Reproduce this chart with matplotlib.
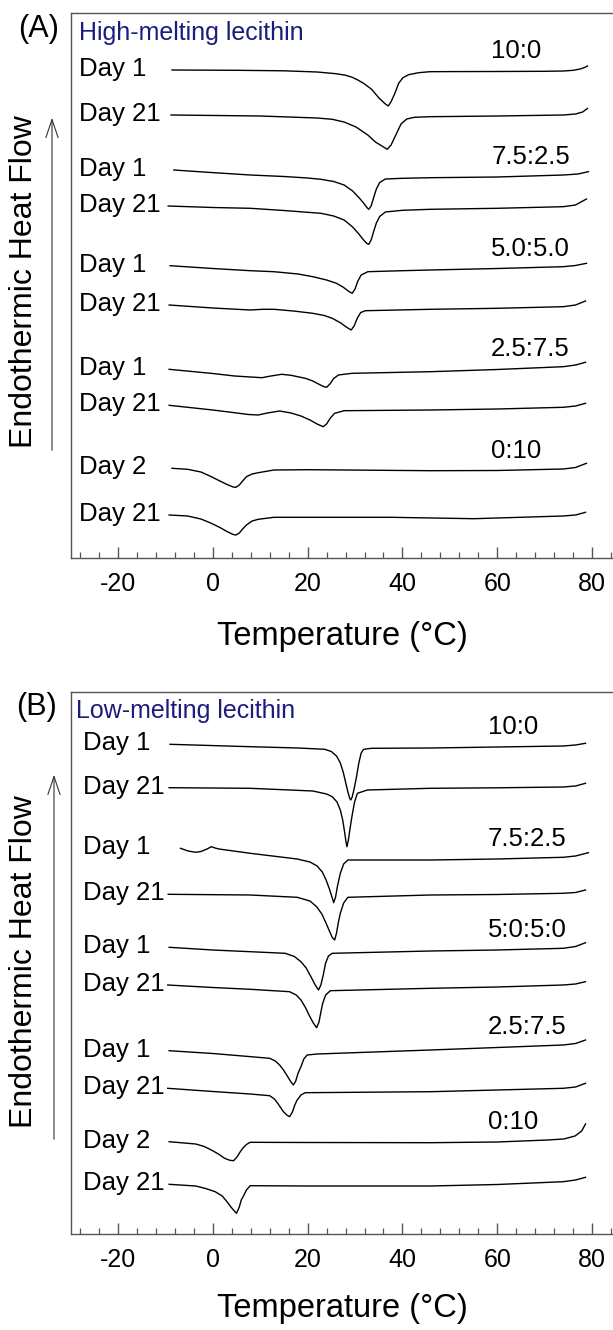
import matplotlib
matplotlib.use("Agg")
import matplotlib.pyplot as plt
from matplotlib.patches import FancyArrowPatch
from matplotlib.ticker import MultipleLocator, NullLocator
import numpy as np

plt.rcParams["font.family"] = ["Liberation Sans", "DejaVu Sans"]
plt.rcParams["axes.unicode_minus"] = False

# ---- Panel A: high-melting lecithin (temperature in degC, heat flow in a.u., stacked) ----
hi_10_0_d1_t = [-8.6, 5, 15, 22, 26, 28, 29.4, 30.6, 31.8, 33.5, 35.1, 36.4, 37.0, 37.6, 38.4, 39.2,
                40.1, 41.3, 43.4, 45.8, 50, 60, 70, 74, 76, 77.5, 78.5, 79]
hi_10_0_d1_hf = [48.8, 48.77, 48.72, 48.6, 48.43, 48.28, 48.07, 47.8, 47.47, 46.87, 45.97, 45.4, 45.2, 45.63,
                 46.47, 47.47, 48.03, 48.33, 48.53, 48.63, 48.64, 48.65, 48.67, 48.7, 48.77, 48.9, 49.07, 49.2]
hi_10_0_d21_t = [-8.8, 10, 22, 25.2, 27.7, 30.2, 32.7, 34.3, 36, 36.8, 37.6, 38.6, 39.7, 40.9, 42.5, 45.8,
                 60, 74, 76.5, 78, 79]
hi_10_0_d21_hf = [44.3, 44.2, 44.0, 43.87, 43.6, 43.1, 42.3, 41.6, 41.1, 40.87, 41.3, 42.3, 43.4, 43.9, 44.07,
                  44.13, 44.2, 44.3, 44.4, 44.6, 44.95]
hi_75_25_d1_t = [-8.2, -2, 7.9, 15, 20, 22.8, 25.5, 27.7, 29.5, 30.8, 31.8, 32.5, 32.9, 33.4, 33.9, 34.5,
                 35.2, 36.4, 40, 46, 60, 74, 77, 79.2]
hi_75_25_d1_hf = [38.8, 38.6, 38.3, 38.15, 38.0, 37.87, 37.65, 37.3, 36.7, 36.05, 35.5, 35.05, 34.87, 35.2,
                  36.0, 36.9, 37.55, 37.9, 37.97, 38.03, 38.1, 38.3, 38.4, 38.63]
hi_75_25_d21_t = [-9.4, 0, 7.9, 15, 22.8, 25.5, 27.7, 29.5, 30.8, 31.8, 32.5, 32.9, 33.4, 33.9, 34.5, 35.2,
                  36.4, 40, 45.9, 60, 73.9, 76.5, 78.8]
hi_75_25_d21_hf = [35.2, 35.05, 34.97, 34.75, 34.47, 34.2, 33.8, 33.1, 32.4, 31.8, 31.45, 31.37, 31.8, 32.6,
                   33.5, 34.15, 34.6, 34.77, 34.87, 34.97, 35.13, 35.3, 35.9]
hi_50_50_d1_t = [-9, 0, 7.9, 12.9, 18, 21.1, 24, 26.1, 27.6, 28.7, 29.4, 30, 30.6, 31.3, 32.7, 40, 45.9,
                 60, 73.9, 76.5, 78.8]
hi_50_50_d1_hf = [29.23, 28.95, 28.73, 28.63, 28.4, 28.13, 27.8, 27.47, 27.05, 26.65, 26.47, 26.9, 27.7, 28.3,
                  28.63, 28.73, 28.8, 28.95, 29.13, 29.25, 29.47]
hi_50_50_d21_t = [-9.2, 0, 7.9, 10.5, 12.9, 17, 21.1, 23.5, 25.2, 27, 28.3, 29.2, 29.8, 30.5, 31.2, 32.2,
                  45.9, 60, 73.9, 76.5, 78.6]
hi_50_50_d21_hf = [25.3, 25.0, 24.8, 24.87, 24.87, 24.7, 24.47, 24.25, 23.97, 23.5, 23.05, 22.8, 23.2, 24.0,
                   24.55, 24.73, 24.87, 24.97, 25.13, 25.3, 25.7]
hi_25_75_d1_t = [-9.2, 0, 4.6, 8, 10.4, 12, 14.5, 16.5, 19.5, 21, 22.5, 23.5, 24, 24.7, 25.5, 26.5, 29.4,
                 45.9, 60, 73.9, 76.5, 78.6]
hi_25_75_d1_hf = [18.87, 18.45, 18.2, 18.1, 18.03, 18.18, 18.37, 18.27, 17.97, 17.72, 17.35, 17.12, 17.07,
                  17.4, 17.95, 18.3, 18.47, 18.63, 18.85, 19.13, 19.3, 19.57]
hi_25_75_d21_t = [-9.2, 0, 4.6, 7.5, 9.6, 11.5, 14.1, 16.5, 18.6, 20.5, 22, 23.3, 24, 24.8, 25.7, 27.7,
                  45.9, 60, 73.9, 76.5, 78.6]
hi_25_75_d21_hf = [15.27, 14.8, 14.53, 14.35, 14.3, 14.5, 14.7, 14.5, 14.2, 13.8, 13.4, 13.13, 13.4, 14.0,
                   14.47, 14.73, 14.8, 14.9, 15.07, 15.2, 15.47]
hi_0_10_d2_t = [-8.6, -5.3, -2.5, -0.3, 1.5, 3, 4.3, 4.9, 5.6, 6.3, 7.1, 8.3, 9.6, 12.9, 20, 45.9, 60,
                73.9, 76.5, 78.8]
hi_0_10_d2_hf = [8.97, 8.87, 8.6, 8.13, 7.7, 7.35, 7.1, 7.07, 7.3, 7.7, 8.13, 8.4, 8.53, 8.8, 8.83, 8.73,
                 8.75, 8.9, 9.05, 9.47]
hi_0_10_d21_t = [-9.2, -5.3, -2.5, -0.3, 1.5, 3, 4.3, 4.9, 5.6, 6.3, 7.1, 8.3, 9.6, 12.9, 37.6, 50, 55,
                 60, 73.9, 76.5, 78.6]
hi_0_10_d21_hf = [4.3, 4.2, 3.9, 3.47, 3.05, 2.65, 2.35, 2.3, 2.5, 2.9, 3.3, 3.7, 3.87, 4.07, 4.07, 3.97,
                  3.93, 4.0, 4.2, 4.3, 4.57]

# ---- Panel B: low-melting lecithin ----
lo_10_0_d1_t = [-9, 7.9, 18, 23.6, 25, 26.1, 26.9, 27.5, 28, 28.5, 28.9, 29.1, 29.4, 29.8, 30.3, 30.8,
                31.3, 31.8, 33.5, 45.9, 60, 73.9, 76.5, 78.6]
lo_10_0_d1_hf = [48.97, 48.73, 48.6, 48.47, 48.25, 47.8, 47.1, 46.2, 45.2, 44.2, 43.55, 43.4, 43.7, 44.5,
                 45.7, 47.1, 48.1, 48.47, 48.57, 48.6, 48.7, 48.8, 48.9, 49.07]
lo_10_0_d21_t = [-9.2, 7.9, 21.1, 24, 25.2, 26.2, 26.9, 27.4, 27.8, 28.1, 28.3, 28.6, 29, 29.4, 29.9, 30.5,
                 32.6, 45.9, 60, 73.9, 76.5, 78.6]
lo_10_0_d21_hf = [44.63, 44.57, 44.3, 44.0, 43.73, 43.2, 42.4, 41.4, 40.2, 39.2, 38.73, 39.4, 40.7, 41.9,
                  43.2, 44.07, 44.4, 44.57, 44.62, 44.7, 44.8, 45.07]
lo_75_25_d1_t = [-6.8, -5.2, -3.6, -2.5, -1.2, -0.3, 0.5, 1.3, 7.9, 17.8, 20.5, 22, 23.1, 23.9, 24.6, 25.2,
                 25.5, 25.9, 26.3, 26.9, 27.6, 28.5, 45.9, 60, 73.9, 76.5, 79.2]
lo_75_25_d1_hf = [38.57, 38.3, 38.17, 38.25, 38.5, 38.73, 38.6, 38.5, 38.07, 37.5, 37.2, 36.8, 36.2, 35.4,
                  34.5, 33.6, 33.13, 33.7, 34.8, 36.07, 37.0, 37.4, 37.4, 37.5, 37.67, 37.8, 38.13]
lo_75_25_d21_t = [-9.4, 7.9, 17.8, 20.5, 21.9, 23, 23.9, 24.6, 25.2, 25.7, 26.1, 26.5, 26.9, 27.6, 28.5,
                  45.9, 60, 73.9, 76.5, 78.6]
lo_75_25_d21_hf = [33.97, 33.9, 33.67, 33.3, 32.73, 32.0, 31.07, 30.3, 29.65, 29.4, 30.1, 31.2, 32.07, 33.1,
                   33.67, 33.9, 33.95, 34.07, 34.15, 34.4]
lo_50_50_d1_t = [-9.2, 0, 7.9, 15.3, 17.2, 18.6, 19.7, 20.7, 21.6, 22.3, 22.8, 23.3, 23.8, 24.4, 25.2, 45.9,
                 60, 73.9, 76.5, 78.6]
lo_50_50_d1_hf = [28.67, 28.4, 28.23, 28.07, 27.75, 27.23, 26.6, 25.73, 24.9, 24.4, 24.9, 25.9, 27.1, 27.8,
                  28.07, 28.3, 28.4, 28.57, 28.75, 29.13]
lo_50_50_d21_t = [-9.5, 0, 7.9, 16.2, 17.6, 18.6, 19.6, 20.3, 21.2, 21.9, 22.4, 22.8, 23.2, 23.8, 24.8,
                  45.9, 60, 73.9, 76.5, 78.6]
lo_50_50_d21_hf = [24.9, 24.65, 24.47, 24.23, 23.9, 23.4, 22.6, 21.9, 21.1, 20.63, 21.2, 22.2, 23.1, 23.9,
                   24.33, 24.57, 24.7, 24.9, 25.0, 25.23]
lo_25_75_d1_t = [-9.2, 0, 6.3, 12, 13.2, 14.1, 15, 15.8, 16.5, 17, 17.5, 18, 18.6, 19.2, 19.9, 22, 45.9,
                 60, 73.9, 76.5, 78.6]
lo_25_75_d1_hf = [18.33, 18.05, 17.8, 17.57, 17.3, 16.9, 16.35, 15.73, 15.2, 14.9, 15.3, 16.1, 16.73, 17.5,
                  17.9, 18.0, 18.4, 18.65, 18.9, 19.05, 19.4]
lo_25_75_d21_t = [-9.5, 0, 7.9, 12, 13, 13.7, 14.3, 14.9, 15.6, 16.2, 16.8, 17.3, 17.8, 18.6, 19.5, 45.9,
                  60, 73.9, 76.5, 78.6]
lo_25_75_d21_hf = [14.57, 14.25, 14.0, 13.83, 13.5, 13.07, 12.65, 12.23, 11.9, 11.73, 12.2, 12.9, 13.4,
                   13.9, 14.13, 14.23, 14.4, 14.57, 14.7, 15.07]
lo_0_10_d2_t = [-9.2, -3.6, -1.8, -0.3, 1.2, 2.5, 3.6, 4.4, 5.1, 5.7, 6.3, 7.1, 7.9, 20, 45.9, 60, 70.6,
                74, 76.4, 77.8, 78.6]
lo_0_10_d2_hf = [9.23, 9.0, 8.75, 8.4, 8.0, 7.57, 7.37, 7.33, 7.7, 8.15, 8.57, 8.95, 9.17, 9.15, 9.13, 9.2,
                 9.4, 9.5, 9.8, 10.3, 11.0]
lo_0_10_d21_t = [-9.2, -3.6, -1.5, 0.5, 2, 3, 4, 5, 5.6, 6, 6.4, 7.1, 7.9, 20, 45.9, 60, 73.9, 76.5, 78.6]
lo_0_10_d21_hf = [4.97, 4.8, 4.55, 4.23, 3.8, 3.23, 2.6, 2.07, 2.7, 3.4, 3.73, 4.4, 4.83, 4.8, 4.8, 4.95,
                  5.23, 5.4, 5.67]

hi_ratios = ["10:0", "7.5:2.5", "5.0:5.0", "2.5:7.5", "0:10"]
lo_ratios = ["10:0", "7.5:2.5", "5:0:5:0", "2.5:7.5", "0:10"]
day_labels = ["Day 1", "Day 21", "Day 1", "Day 21", "Day 1", "Day 21", "Day 1", "Day 21", "Day 2", "Day 21"]

hi_curves = [
    (hi_10_0_d1_t, hi_10_0_d1_hf), (hi_10_0_d21_t, hi_10_0_d21_hf),
    (hi_75_25_d1_t, hi_75_25_d1_hf), (hi_75_25_d21_t, hi_75_25_d21_hf),
    (hi_50_50_d1_t, hi_50_50_d1_hf), (hi_50_50_d21_t, hi_50_50_d21_hf),
    (hi_25_75_d1_t, hi_25_75_d1_hf), (hi_25_75_d21_t, hi_25_75_d21_hf),
    (hi_0_10_d2_t, hi_0_10_d2_hf), (hi_0_10_d21_t, hi_0_10_d21_hf),
]
lo_curves = [
    (lo_10_0_d1_t, lo_10_0_d1_hf), (lo_10_0_d21_t, lo_10_0_d21_hf),
    (lo_75_25_d1_t, lo_75_25_d1_hf), (lo_75_25_d21_t, lo_75_25_d21_hf),
    (lo_50_50_d1_t, lo_50_50_d1_hf), (lo_50_50_d21_t, lo_50_50_d21_hf),
    (lo_25_75_d1_t, lo_25_75_d1_hf), (lo_25_75_d21_t, lo_25_75_d21_hf),
    (lo_0_10_d2_t, lo_0_10_d2_hf), (lo_0_10_d21_t, lo_0_10_d21_hf),
]

W, H = 613, 1330
fig = plt.figure(figsize=(W / 100, H / 100), dpi=100)

NAVY = "#1c1c7e"
SPINE = "#555555"


def draw_panel(rect, curves, ratios, ylim, day_x, ratio_x):
    ax = fig.add_axes(rect)
    for t, hf in curves:
        ax.plot(t, hf, color="black", lw=1.0, solid_joinstyle="round")

    for (t, hf), lab in zip(curves, day_labels):
        ax.text(day_x, hf[0] + 0.1, lab, fontsize=18.5, ha="left", va="center")

    # composition label sits above the Day 1 trace
    for i, lab in enumerate(ratios):
        t, hf = curves[2 * i]
        y = np.interp(60, t, hf) + 2.0
        ax.text(ratio_x, y, lab, fontsize=18.5, ha="left", va="center")

    ax.set_xlim(-30, 84.4)
    ax.set_ylim(*ylim)
    ax.xaxis.set_major_locator(MultipleLocator(20))
    ax.xaxis.set_minor_locator(MultipleLocator(4))
    ax.yaxis.set_major_locator(NullLocator())
    ax.tick_params(axis="x", which="major", direction="in", length=8, width=1.0,
                   color=SPINE, labelsize=18, pad=10)
    ax.tick_params(axis="x", which="minor", direction="in", length=4, width=0.9, color=SPINE)
    ax.spines["right"].set_visible(False)
    for s in ("left", "top", "bottom"):
        ax.spines[s].set_color(SPINE)
        ax.spines[s].set_linewidth(1.0)
    return ax


def px(x, y):
    return x / W, 1 - y / H


left = 70.5 / W
draw_panel([left, 1 - 558 / H, 1 - left, (558 - 13.3) / H], hi_curves, hi_ratios,
           (0, 54.47), -28.3, 58.7)
draw_panel([left, 1 - 1234 / H, 1 - left, (1234 - 692) / H], lo_curves, lo_ratios,
           (0, 54.2), -27.3, 58.0)

# panel letters and titles
fig.text(*px(39, 29), "(A)", fontsize=22, ha="center", va="center")
fig.text(*px(79, 33), "High-melting lecithin", fontsize=18, color=NAVY, ha="left", va="center")
fig.text(*px(37, 707), "(B)", fontsize=22, ha="center", va="center")
fig.text(*px(76, 711), "Low-melting lecithin", fontsize=18, color=NAVY, ha="left", va="center")

# axis titles
for yc in (282, 962):
    fig.text(*px(24, yc), "Endothermic Heat Flow", fontsize=23, rotation=90,
             ha="center", va="center")
for yc in (637, 1309):
    fig.text(*px(342, yc), "Temperature (\u00b0C)", fontsize=23.5, ha="center", va="center")

# heat-flow direction arrows
for xa, y0, y1 in ((52, 453, 115), (54, 1142, 772)):
    arr = FancyArrowPatch(px(xa, y0), px(xa, y1), transform=fig.transFigure,
                          arrowstyle="->,head_length=0.65,head_width=0.22",
                          mutation_scale=20, lw=0.8, color="#333333")
    fig.add_artist(arr)

fig.savefig("out.png", dpi=100)
